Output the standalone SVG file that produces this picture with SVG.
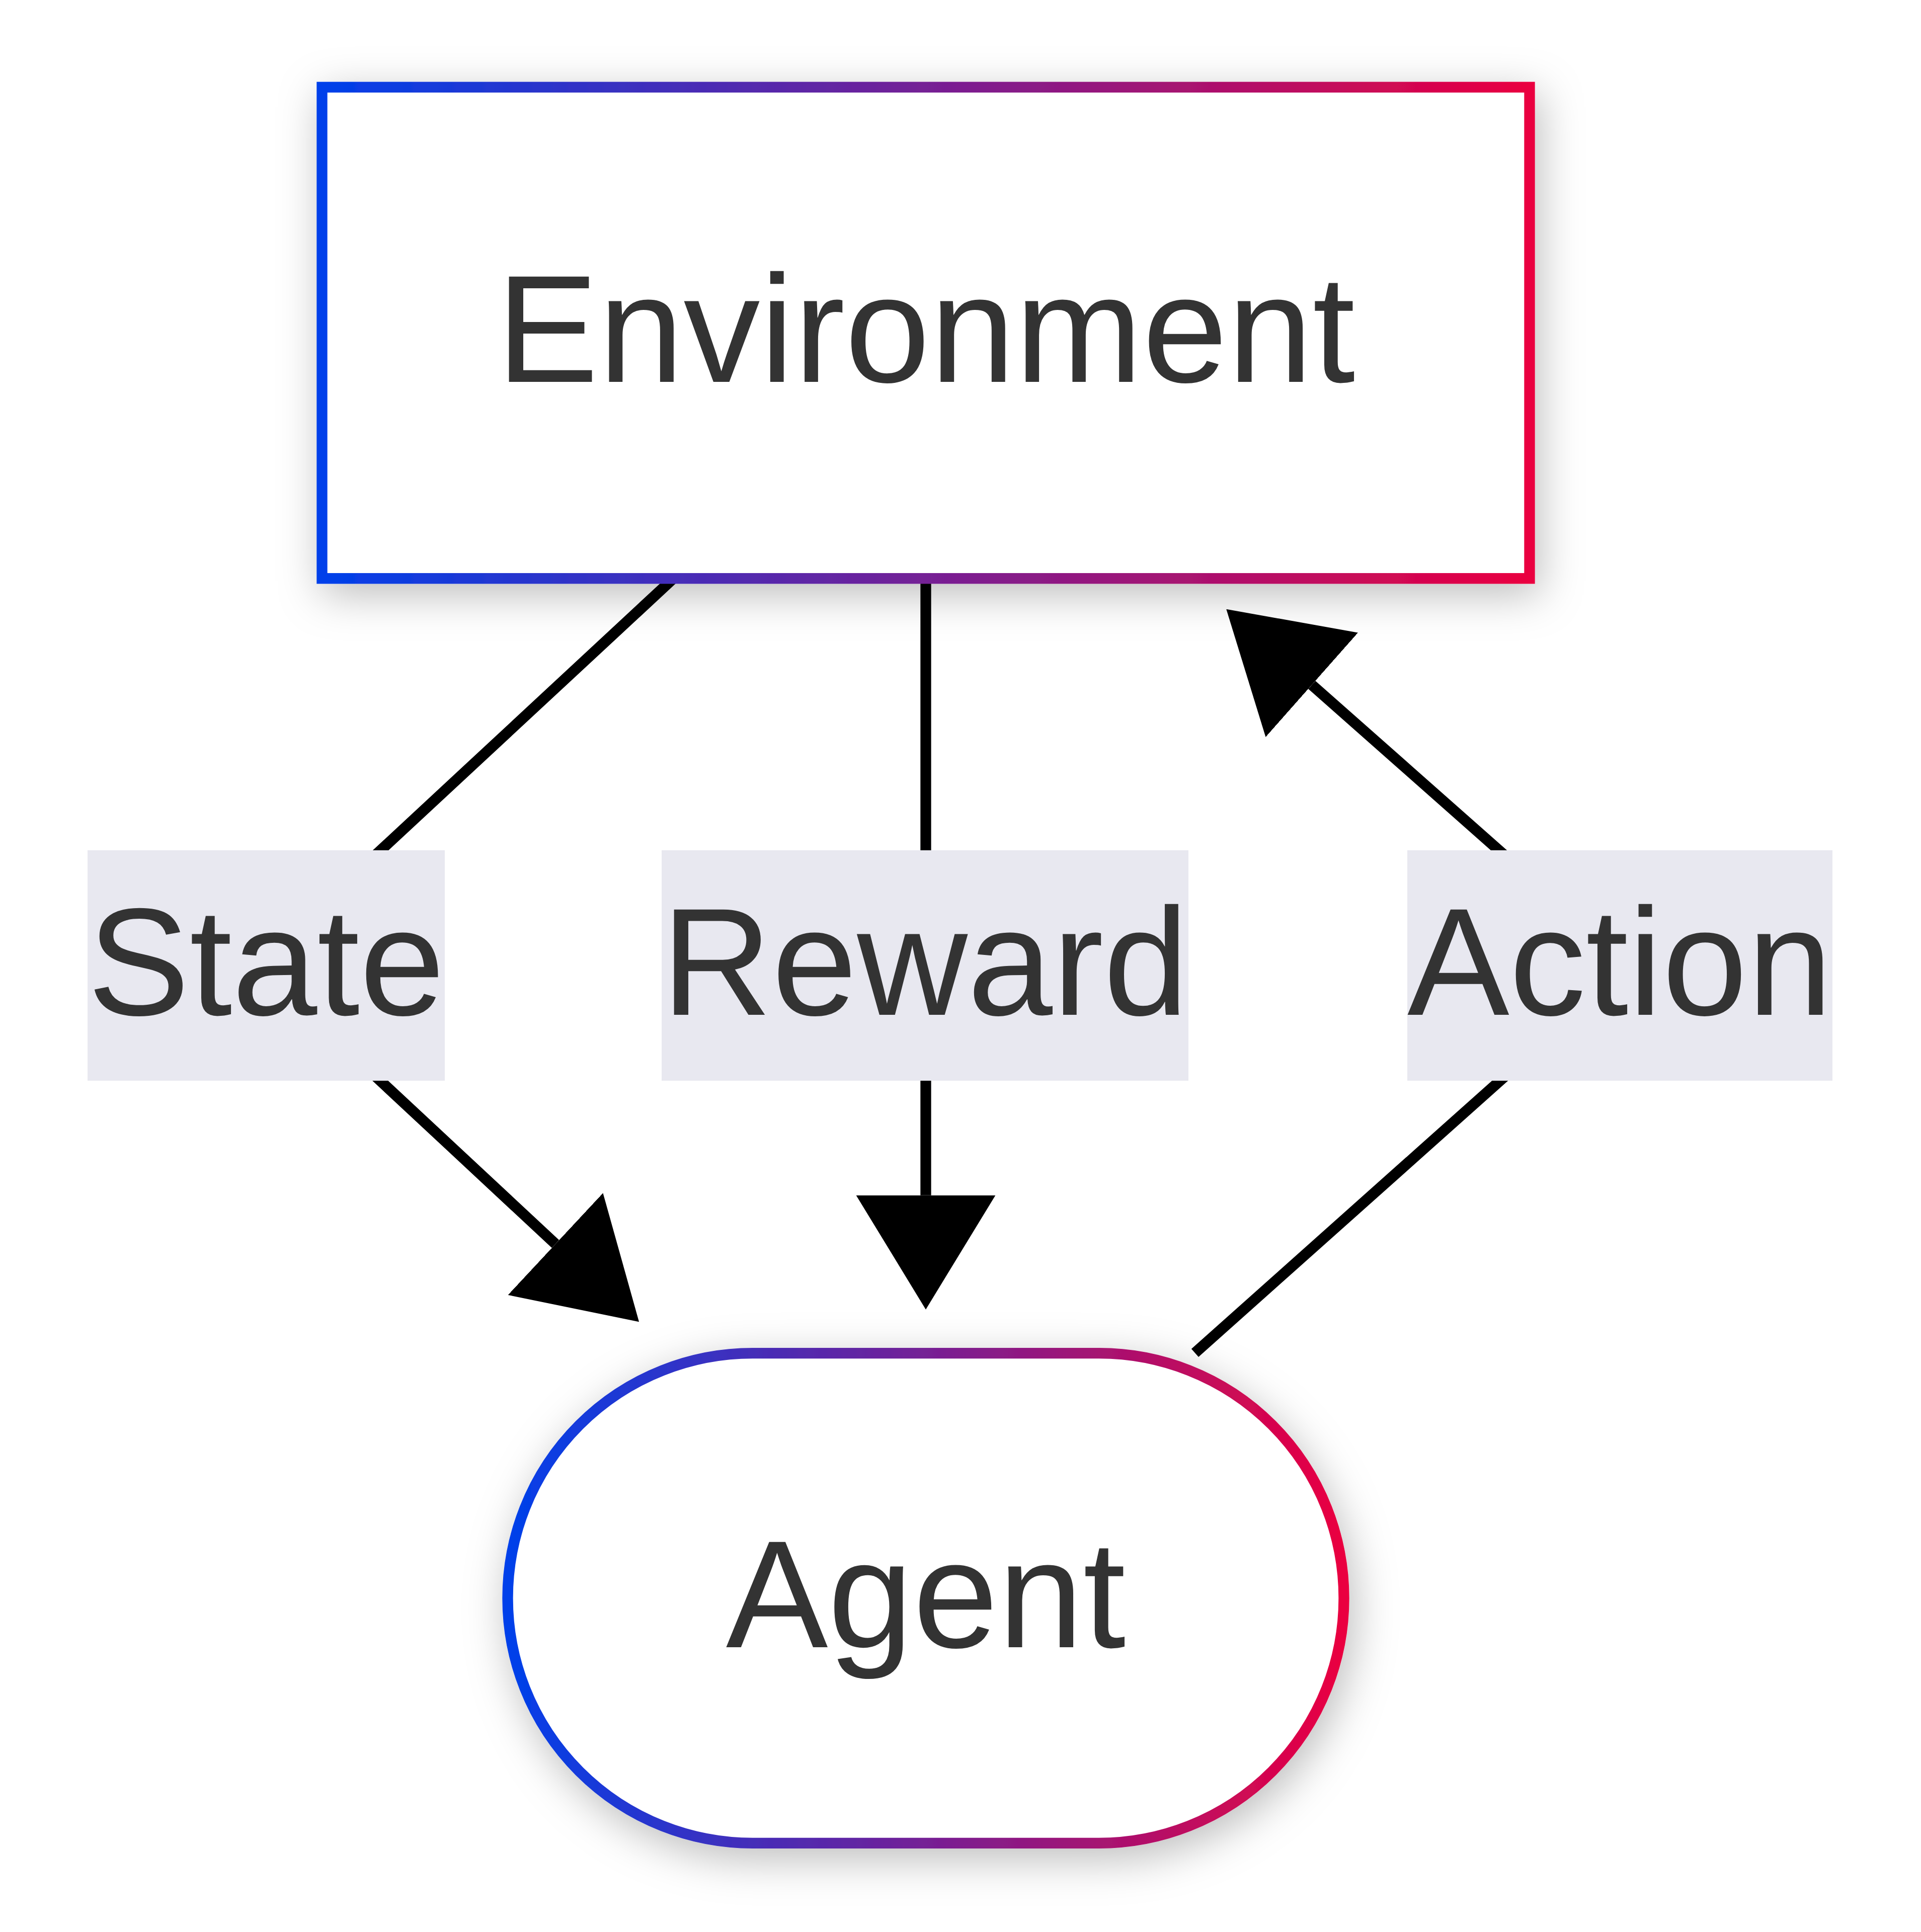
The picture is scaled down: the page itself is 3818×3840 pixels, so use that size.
<svg xmlns="http://www.w3.org/2000/svg" width="3818" height="3840" viewBox="0 0 3818 3840">
  <defs>
    <linearGradient id="borderGrad" x1="0" y1="0" x2="1" y2="0">
      <stop offset="0" stop-color="#0040ea"/>
      <stop offset="1" stop-color="#ea0040"/>
    </linearGradient>
    <filter id="shadow" x="-25%" y="-30%" width="150%" height="170%">
      <feDropShadow dx="10" dy="22" stdDeviation="42" flood-color="#000000" flood-opacity="0.26"/>
    </filter>
    <marker id="arrow" viewBox="0 0 227 277" markerWidth="227" markerHeight="277" markerUnits="userSpaceOnUse" refX="0" refY="138.5" orient="auto">
      <path d="M0,0 L227,138.5 L0,277 Z" fill="#000000"/>
    </marker>
    <style>
      .node-shape { fill: #ffffff; stroke: url(#borderGrad); stroke-width: 21.3; filter: url(#shadow); }
      .edge { fill: none; stroke: #000000; stroke-width: 21.3; marker-end: url(#arrow); }
      .label-bg { fill: #e8e8f0; }
      .txt { font-family: "Liberation Sans", Arial, Helvetica, sans-serif; font-size: 304px; fill: #333333; text-anchor: middle; }
    </style>
  </defs>
  <rect width="3818" height="3840" fill="#ffffff"/>

  <g id="connectors">
    <path id="edge-state" class="edge" d="M1338,1150 L510,1919 L1104,2472.5"/>
    <path id="edge-reward" class="edge" d="M1840,1150 L1840,2375.7"/>
    <path id="edge-action" class="edge" d="M2375,2689 L3238,1919 L2607.3,1361.2"/>
  </g>

  <g id="node-environment">
    <rect class="node-shape" x="640" y="173.3" width="2400" height="976.4"/>
    <text class="txt" x="1840" y="759">Environment</text>
  </g>

  <g id="node-agent">
    <rect class="node-shape" x="1009" y="2689.7" width="1662" height="973.6" rx="486.8" ry="486.8"/>
    <text class="txt" x="1840" y="3274">Agent</text>
  </g>

  <g id="label-state">
    <rect class="label-bg" x="174" y="1690" width="710" height="458"/>
    <text class="txt" x="529" y="2017">State</text>
  </g>
  <g id="label-reward">
    <rect class="label-bg" x="1315" y="1690" width="1047" height="458"/>
    <text class="txt" x="1838.5" y="2017">Reward</text>
  </g>
  <g id="label-action">
    <rect class="label-bg" x="2797" y="1690" width="845" height="458"/>
    <text class="txt" x="3219.5" y="2017">Action</text>
  </g>
</svg>
